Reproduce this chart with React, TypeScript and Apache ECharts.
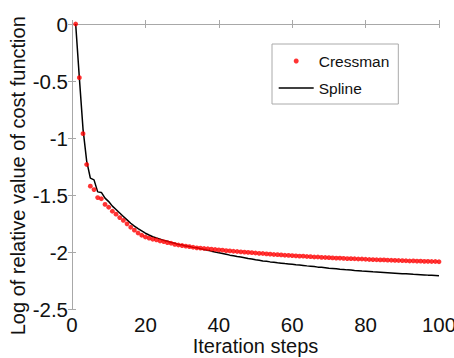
import React, { useEffect, useRef } from "react";
import * as echarts from "echarts";

const iterations: number[] = Array.from({ length: 100 }, (_, i) => i + 1);

const cressman: number[] = [
  0, -0.47, -0.96, -1.23, -1.42, -1.45, -1.52, -1.53, -1.58, -1.605,
  -1.64, -1.665, -1.695, -1.72, -1.75, -1.78, -1.805, -1.83, -1.85, -1.865,
  -1.875, -1.885, -1.89, -1.9, -1.905, -1.915, -1.92, -1.93, -1.935, -1.94,
  -1.945, -1.95, -1.955, -1.96, -1.962, -1.966, -1.968, -1.972, -1.975, -1.978,
  -1.98, -1.985, -1.987, -1.99, -1.992, -1.995, -1.997, -2.0, -2.002, -2.005,
  -2.008, -2.01, -2.013, -2.015, -2.018, -2.02, -2.022, -2.025, -2.026, -2.028,
  -2.03, -2.032, -2.033, -2.036, -2.037, -2.04, -2.04, -2.043, -2.045, -2.046,
  -2.048, -2.05, -2.05, -2.052, -2.054, -2.055, -2.056, -2.058, -2.058, -2.06,
  -2.062, -2.063, -2.064, -2.066, -2.066, -2.068, -2.069, -2.07, -2.071, -2.072,
  -2.073, -2.075, -2.074, -2.076, -2.077, -2.078, -2.078, -2.08, -2.08, -2.082,
];

const spline: number[] = [
  0, -0.47, -0.92, -1.2, -1.35, -1.365, -1.47, -1.475, -1.525, -1.555,
  -1.595, -1.625, -1.655, -1.685, -1.715, -1.745, -1.77, -1.792, -1.812, -1.832,
  -1.848, -1.863, -1.874, -1.884, -1.895, -1.903, -1.914, -1.92, -1.93, -1.934,
  -1.945, -1.949, -1.956, -1.96, -1.968, -1.974, -1.981, -1.989, -1.996, -2.004,
  -2.01, -2.016, -2.024, -2.029, -2.036, -2.04, -2.046, -2.054, -2.058, -2.065,
  -2.069, -2.075, -2.078, -2.083, -2.086, -2.091, -2.094, -2.098, -2.101, -2.104,
  -2.108, -2.111, -2.114, -2.118, -2.121, -2.124, -2.129, -2.131, -2.134, -2.138,
  -2.141, -2.144, -2.148, -2.149, -2.153, -2.155, -2.158, -2.16, -2.163, -2.165,
  -2.167, -2.17, -2.172, -2.174, -2.176, -2.178, -2.18, -2.182, -2.184, -2.186,
  -2.188, -2.19, -2.192, -2.193, -2.195, -2.197, -2.199, -2.2, -2.202, -2.205,
];

const seriesNames = ["Cressman", "Spline"];
const xTitle = "Iteration steps";
const yTitle = "Log of relative value of cost function";

export default function App() {
  const ref = useRef<HTMLDivElement>(null);
  useEffect(() => {
    if (!ref.current) return;
    const chart = echarts.init(ref.current, null, { renderer: "svg" });
    const font = "'Liberation Sans', Arial, sans-serif";
    const axisColor = "#a8a8a8";
    const baseAxis = {
      axisLine: { show: true, lineStyle: { color: axisColor, width: 1 } },
      axisTick: { show: true, inside: true, length: 4, lineStyle: { color: axisColor } },
      splitLine: { show: false },
    };
    chart.setOption({
      animation: false,
      backgroundColor: "#ffffff",
      grid: {
        left: 72,
        right: 15,
        top: 24,
        bottom: 48.5,
        containLabel: false,
        outerBoundsMode: "none",
      },
      legend: {
        orient: "vertical",
        left: 272,
        top: 44,
        padding: [9, 9, 8, 6],
        itemGap: 11,
        itemWidth: 35,
        itemHeight: 5,
        backgroundColor: "#ffffff",
        borderColor: "#aaaaaa",
        borderWidth: 1,
        textStyle: { fontFamily: font, fontSize: 15.5, color: "#111" },
        data: [
          { name: seriesNames[0], icon: "circle" },
          { name: seriesNames[1], itemStyle: { opacity: 0 }, lineStyle: { color: "#000", width: 1.4, opacity: 1 } },
        ],
      },
      xAxis: [
        {
          ...baseAxis,
          type: "value",
          min: 0,
          max: 100,
          interval: 20,
          name: xTitle,
          nameLocation: "middle",
          nameGap: 26,
          nameMoveOverlap: false,
          nameTextStyle: { fontFamily: font, fontSize: 20, color: "#111" },
          axisLabel: { fontFamily: font, fontSize: 20.5, color: "#111", margin: 4 },
        },
        {
          ...baseAxis,
          type: "value",
          position: "top",
          min: 0,
          max: 100,
          interval: 20,
          axisLabel: { show: false },
        },
      ],
      yAxis: [
        {
          ...baseAxis,
          type: "value",
          min: -2.5,
          max: 0,
          interval: 0.5,
          name: yTitle,
          nameLocation: "middle",
          nameGap: 44,
          nameMoveOverlap: false,
          nameTextStyle: { fontFamily: font, fontSize: 20, color: "#111", padding: [0, 18, 0, 0] },
          axisLabel: { fontFamily: font, fontSize: 20.5, color: "#111", margin: 4 },
        },
        {
          ...baseAxis,
          type: "value",
          position: "right",
          min: -2.5,
          max: 0,
          interval: 0.5,
          axisLabel: { show: false },
        },
      ],
      series: [
        {
          name: seriesNames[1],
          type: "line",
          data: iterations.map((x, i) => [x, spline[i]]),
          showSymbol: false,
          symbol: "none",
          lineStyle: { color: "#000000", width: 1.5 },
          itemStyle: { color: "#000000" },
          z: 2,
        },
        {
          name: seriesNames[0],
          type: "scatter",
          data: iterations.map((x, i) => [x, cressman[i]]),
          symbol: "circle",
          symbolSize: 4.8,
          itemStyle: { color: "#ff0000" },
          z: 3,
        },
      ],
    });
    return () => chart.dispose();
  }, []);
  return (
    <div
      ref={ref}
      style={{ position: "fixed", left: 0, top: 0, width: 454, height: 358 }}
    />
  );
}
